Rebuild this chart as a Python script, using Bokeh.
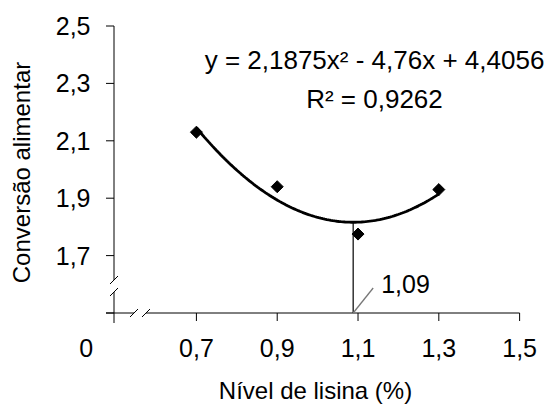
import numpy as np
from bokeh.plotting import figure
from bokeh.models import FixedTicker, Range1d
from bokeh.core.properties import value
from bokeh.embed import file_html
from bokeh.resources import INLINE

# ---------------- data ----------------
lysine = [0.7, 0.9, 1.1, 1.3]            # Nível de lisina (%)
feed_conv = [2.13, 1.94, 1.775, 1.93]    # Conversão alimentar
coef_a, coef_b, coef_c = 2.1875, -4.76, 4.4056
r_squared = 0.9262
zero_tick = 0.427                         # position of the "0" label on the broken axis
x_ticks = [0.7, 0.9, 1.1, 1.3, 1.5]
x_tick_labels = ["0,7", "0,9", "1,1", "1,3", "1,5"]
y_ticks = [1.7, 1.9, 2.1, 2.3, 2.5]
y_tick_labels = ["1,7", "1,9", "2,1", "2,3", "2,5"]
origin_label = "0"
eq_text = "y = 2,1875x² - 4,76x + 4,4056"
r2_text = "R² = 0,9262"
vertex_text = "1,09"
x_title = "Nível de lisina (%)"
y_title = "Conversão alimentar"

# ---------------- layout ----------------
FONT = "Liberation Sans"
W, H = 550, 406
BL, BR, BT, BB = 80, 0, 18, 80
FW, FH = W - BL - BR, H - BT - BB
XS, YS = 404.0, 287.0            # px per unit
ORIGIN_X, ORIGIN_Y = 0.496, 1.5  # broken-axis origin
X0 = ORIGIN_X - 33.5 / XS
X1 = X0 + FW / XS
Y1 = ORIGIN_Y + 294.5 / YS
Y0 = Y1 - FH / YS


def px_x(n):
    return n / XS


def px_y(n):
    return n / YS


p = figure(width=W, height=H, x_range=Range1d(X0, X1), y_range=Range1d(Y0, Y1),
           output_backend="svg", toolbar_location=None,
           min_border_left=BL, min_border_right=BR,
           min_border_top=BT, min_border_bottom=BB)
p.outline_line_color = None
p.grid.visible = False
p.background_fill_color = "white"
p.border_fill_color = "white"

# axes: labels and titles from Bokeh, lines drawn below (broken axes)
for ax in (p.xaxis[0], p.yaxis[0]):
    ax.axis_line_color = None
    ax.major_tick_line_color = None
    ax.minor_tick_line_color = None
    ax.major_tick_out = 0
    ax.major_tick_in = 0
    ax.major_label_text_font = FONT
    ax.major_label_text_font_size = "25px"
    ax.major_label_text_color = "black"
    ax.axis_label_text_font = FONT
    ax.axis_label_text_font_size = "24px"
    ax.axis_label_text_font_style = "normal"
    ax.axis_label_text_color = "black"

xa = p.xaxis[0]
xa.ticker = FixedTicker(ticks=[zero_tick] + x_ticks)
xa.major_label_overrides = dict(zip([zero_tick] + x_ticks, [origin_label] + x_tick_labels))
xa.major_label_standoff = 12
xa.axis_label = x_title
xa.axis_label_standoff = 17

ya = p.yaxis[0]
ya.ticker = FixedTicker(ticks=y_ticks)
ya.major_label_overrides = dict(zip(y_ticks, y_tick_labels))
ya.major_label_standoff = -10
ya.axis_label = y_title
ya.axis_label_standoff = 18

# ---- broken axis lines ----
ax_x0, ax_y0, ax_x1, ax_y1 = [], [], [], []
# y axis (upper part, lower part through origin)
ax_x0 += [ORIGIN_X, ORIGIN_X]
ax_y0 += [max(y_ticks), ORIGIN_Y + px_y(21)]
ax_x1 += [ORIGIN_X, ORIGIN_X]
ax_y1 += [ORIGIN_Y + px_y(33), ORIGIN_Y - px_y(10)]
# x axis (left stub and main part)
ax_x0 += [ORIGIN_X - px_x(8), ORIGIN_X + px_x(32)]
ax_y0 += [ORIGIN_Y, ORIGIN_Y]
ax_x1 += [ORIGIN_X + px_x(20), max(x_ticks)]
ax_y1 += [ORIGIN_Y, ORIGIN_Y]
# y ticks
for t in [ORIGIN_Y] + y_ticks:
    ax_x0.append(ORIGIN_X - px_x(8)); ax_y0.append(t)
    ax_x1.append(ORIGIN_X); ax_y1.append(t)
# x ticks
for t in x_ticks:
    ax_x0.append(t); ax_y0.append(ORIGIN_Y)
    ax_x1.append(t); ax_y1.append(ORIGIN_Y - px_y(8))
# break slashes
for cy in (ORIGIN_Y + px_y(33), ORIGIN_Y + px_y(21)):
    ax_x0.append(ORIGIN_X - px_x(4)); ax_y0.append(cy - px_y(4))
    ax_x1.append(ORIGIN_X + px_x(4)); ax_y1.append(cy + px_y(4))
for cx in (ORIGIN_X + px_x(20), ORIGIN_X + px_x(32)):
    ax_x0.append(cx - px_x(4)); ax_y0.append(ORIGIN_Y - px_y(4))
    ax_x1.append(cx + px_x(4)); ax_y1.append(ORIGIN_Y + px_y(4))
p.segment(ax_x0, ax_y0, ax_x1, ax_y1, line_color="black", line_width=1)

# ---- trend curve ----
xc = np.linspace(min(lysine), max(lysine), 120)
yc = coef_a * xc ** 2 + coef_b * xc + coef_c
p.line(xc, yc, line_color="black", line_width=2.8)

# vertex marker lines
vx = -coef_b / (2 * coef_a)
vy = coef_a * vx ** 2 + coef_b * vx + coef_c
p.segment([vx], [ORIGIN_Y], [vx], [vy], line_color="black", line_width=1.2)
p.segment([vx], [ORIGIN_Y], [vx + px_x(20)], [ORIGIN_Y + px_y(25)],
          line_color="#777777", line_width=1.3)
p.text([vx + px_x(28)], [ORIGIN_Y + px_y(29)], text=[vertex_text],
       text_font=value(FONT), text_font_size=value("25px"), text_color="black",
       text_align="left", text_baseline="alphabetic")

# ---- data points ----
p.scatter(lysine, feed_conv, marker="square", size=8.5, angle=np.pi / 4,
          fill_color="black", line_color="black")

# ---- equation ----
p.text([X0 + px_x(294)] * 2, [Y1 - px_y(41.5), Y1 - px_y(80.5)],
       text=[eq_text, r2_text], text_font=value(FONT), text_font_size=value("26px"),
       text_color="black", text_align="center", text_baseline="alphabetic")

open("out.html", "w").write(file_html(p, INLINE))
